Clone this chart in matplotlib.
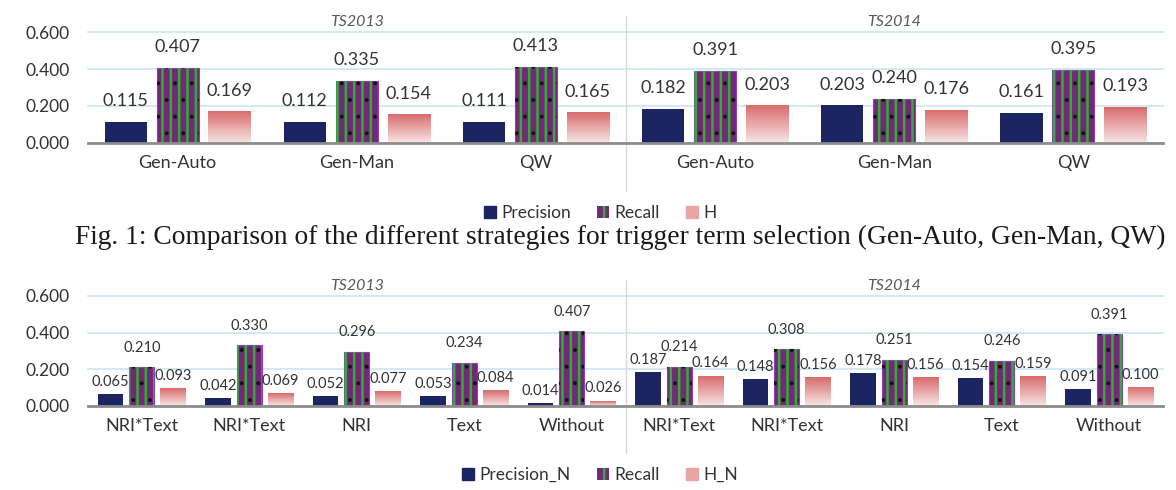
import matplotlib
matplotlib.use('Agg')
import matplotlib.pyplot as plt
import numpy as np
from matplotlib.patches import Patch
from matplotlib.colors import LinearSegmentedColormap

# ---------------- data ----------------
top_groups = ['TS2013', 'TS2014']
top_categories = ['Gen-Auto', 'Gen-Man', 'QW', 'Gen-Auto', 'Gen-Man', 'QW']
top_precision = [0.115, 0.112, 0.111, 0.182, 0.203, 0.161]
top_recall = [0.407, 0.335, 0.413, 0.391, 0.240, 0.395]
top_h = [0.169, 0.154, 0.165, 0.203, 0.176, 0.193]
top_legend = ['Precision', 'Recall', 'H']

bottom_groups = ['TS2013', 'TS2014']
bottom_categories = ['NRI*Text', 'NRI*Text', 'NRI', 'Text', 'Without',
                     'NRI*Text', 'NRI*Text', 'NRI', 'Text', 'Without']
bottom_precision = [0.065, 0.042, 0.052, 0.053, 0.014, 0.187, 0.148, 0.178, 0.154, 0.091]
bottom_recall = [0.210, 0.330, 0.296, 0.234, 0.407, 0.214, 0.308, 0.251, 0.246, 0.391]
bottom_h = [0.093, 0.069, 0.077, 0.084, 0.026, 0.164, 0.156, 0.156, 0.159, 0.100]
bottom_legend = ['Precision_N', 'Recall', 'H_N']

y_ticks = [0.0, 0.2, 0.4, 0.6]
y_tick_labels = ['0.000', '0.200', '0.400', '0.600']
caption = ('Fig. 1: Comparison of the different strategies for trigger term '
           'selection (Gen-Auto, Gen-Man, QW)')

# ---------------- style ----------------
FONT = 'Lato'
NAVY = '#1C2461'
PURPLE = '#74287A'
GREEN = '#2EB02E'
GRID = '#CFE7F2'
TXT = '#333333'
H_CMAP = LinearSegmentedColormap.from_list('hgrad', ['#F8E6E6', '#D96B6B'])

plt.rcParams['font.family'] = [FONT, 'DejaVu Sans']
plt.rcParams['hatch.linewidth'] = 1.8

fig = plt.figure(figsize=(11.76, 4.9), dpi=100)
W, H = 1176.0, 490.0


def draw_chart(ax, cats, groups, prec, rec, hval, vfs, vdys):
    n = len(cats)
    x = np.arange(n)
    w = 0.235
    step = 0.29
    bp = ax.bar(x - step, prec, w, color=NAVY, zorder=3)
    br = ax.bar(x, rec, w, color=PURPLE, edgecolor='#8A3FBF', linewidth=0.8, zorder=3)
    ax.bar(x, rec, w, color='none', edgecolor=GREEN, hatch='||', linewidth=0, zorder=4)
    with plt.rc_context({'hatch.linewidth': 0.4}):
        dots = ax.bar(x, rec, w, color='none', edgecolor='#111111', hatch='.',
                      linewidth=0, zorder=5)
        for p in dots:
            if hasattr(p, 'set_hatch_linewidth'):
                p.set_hatch_linewidth(0.4)
    bh = ax.bar(x + step, hval, w, color='none', linewidth=0, zorder=3)
    grad = np.linspace(0, 1, 256).reshape(-1, 1)
    for p in bh:
        x0, y0 = p.get_x(), p.get_y()
        ax.imshow(grad, extent=[x0, x0 + p.get_width(), y0, y0 + p.get_height()],
                  origin='lower', cmap=H_CMAP, aspect='auto', zorder=3,
                  interpolation='bilinear')
    for bars, vals, vdy in ((bp, prec, vdys[0]), (br, rec, vdys[1]), (bh, hval, vdys[2])):
        for p, v in zip(bars, vals):
            ax.annotate(f'{v:.3f}', (p.get_x() + p.get_width() / 2, p.get_height()),
                        xytext=(0, vdy), textcoords='offset points',
                        ha='center', va='center', fontsize=vfs, color=TXT, zorder=6)
    ax.set_xlim(-0.5, n - 0.5)
    ax.set_ylim(0, 0.6)
    ax.set_yticks(y_ticks)
    ax.set_yticklabels(y_tick_labels)
    ax.set_xticks(x)
    ax.set_xticklabels(cats)
    for s in ('top', 'left', 'right'):
        ax.spines[s].set_visible(False)
    ax.spines['bottom'].set_color('#8C8C8C')
    ax.spines['bottom'].set_linewidth(2)
    ax.spines['bottom'].set_zorder(7)
    ax.yaxis.grid(True, color=GRID, linewidth=1.3, clip_on=False)
    ax.set_axisbelow(True)
    ax.tick_params(axis='y', length=0, labelsize=12.5, colors=TXT, pad=13)
    ax.tick_params(axis='x', length=0, labelsize=13, colors=TXT, pad=9)
    half = n / 2
    ax.plot([half - 0.5, half - 0.5], [-0.26, 0.69], color='#D9D9D9', lw=1,
            clip_on=False, zorder=1)
    for i, g in enumerate(groups):
        ax.text(i * half + half / 2 - 0.5, 0.655, g, style='italic', ha='center',
                va='center', fontsize=11.5, color='#595959')


def legend_handles():
    return [Patch(facecolor=NAVY, edgecolor=NAVY),
            Patch(facecolor=PURPLE, edgecolor=GREEN, hatch='||', linewidth=0),
            Patch(facecolor='#EBA3A3', edgecolor='#EBA3A3')]


ax1 = fig.add_axes([88 / W, 1 - 142.7 / H, 1075 / W, 110.4 / H])
draw_chart(ax1, top_categories, top_groups, top_precision, top_recall, top_h, 13,
           (15, 15, 15))
fig.legend(legend_handles(), top_legend, loc='center', bbox_to_anchor=(600 / W, 1 - 213 / H),
           ncol=3, frameon=False, fontsize=12.5, handlelength=0.7, handleheight=0.7,
           handletextpad=0.3, columnspacing=1.5, labelcolor=TXT)

fig.text(75 / W, 1 - 237 / H, caption, ha='left', va='center', fontsize=19.8,
         family='Liberation Serif', color='#1a1a1a')

ax2 = fig.add_axes([88 / W, 1 - 405.7 / H, 1075 / W, 109.7 / H])
draw_chart(ax2, bottom_categories, bottom_groups, bottom_precision, bottom_recall,
           bottom_h, 10.5, (8.5, 14, 9))
fig.legend(legend_handles(), bottom_legend, loc='center', bbox_to_anchor=(600 / W, 1 - 475 / H),
           ncol=3, frameon=False, fontsize=12.5, handlelength=0.7, handleheight=0.7,
           handletextpad=0.3, columnspacing=1.5, labelcolor=TXT)

fig.savefig('out.png', dpi=100)
